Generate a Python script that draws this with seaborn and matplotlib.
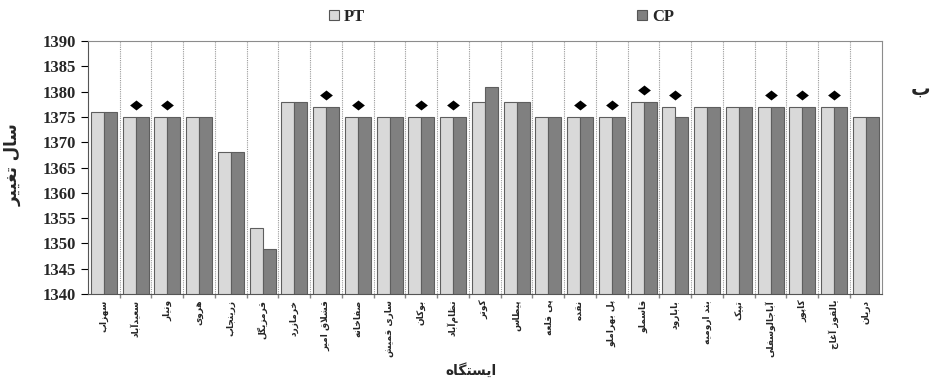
import matplotlib
matplotlib.use("Agg")
import matplotlib.pyplot as plt
import seaborn as sns
import pandas as pd
from matplotlib.patches import Patch

# --- data -------------------------------------------------------------
stations = [
    "سهزاب", "سعیدآباد", "ونیار", "هروی", "زرینجاب", "قرمزیگل", "خرمازرد",
    "قشلاق امیر", "صفاخانه", "ساری قمیش", "بوکان", "نظام\u200cآباد", "کوتر",
    "پیطاس", "پی قلعه", "نقده", "پل بهراملو", "قاسملو", "بابارود",
    "بند ارومیه", "تپیک", "آباجالوسفلی", "کاپور", "یالقوز آغاج", "دریان",
]
pt_years = [1376, 1375, 1375, 1375, 1368, 1353, 1378, 1377, 1375, 1375, 1375,
            1375, 1378, 1378, 1375, 1375, 1375, 1378, 1377, 1377, 1377, 1377,
            1377, 1377, 1375]
cp_years = [1376, 1375, 1375, 1375, 1368, 1349, 1378, 1377, 1375, 1375, 1375,
            1375, 1381, 1378, 1375, 1375, 1375, 1378, 1375, 1377, 1377, 1377,
            1377, 1377, 1375]
# stations flagged with a diamond above their bars
flagged = [0, 1, 1, 0, 0, 0, 0, 1, 1, 0, 1, 1, 0, 0, 0, 1, 1, 1, 1, 0, 0, 1,
           1, 1, 0]
series_names = ["PT", "CP"]
y_ticks = list(range(1340, 1391, 5))
y_title = "سال تغییر"
x_title = "ایستگاه"
panel_tag = "ب"

# --- minimal Arabic-script shaping (matplotlib has no complex text layout)
FORMS = {
    "ا": ("\uFE8D", "\uFE8E"), "آ": ("\uFE81", "\uFE82"),
    "ب": ("\uFE8F", "\uFE90", "\uFE91", "\uFE92"),
    "پ": ("\uFB56", "\uFB57", "\uFB58", "\uFB59"),
    "ت": ("\uFE95", "\uFE96", "\uFE97", "\uFE98"),
    "ث": ("\uFE99", "\uFE9A", "\uFE9B", "\uFE9C"),
    "ج": ("\uFE9D", "\uFE9E", "\uFE9F", "\uFEA0"),
    "چ": ("\uFB7A", "\uFB7B", "\uFB7C", "\uFB7D"),
    "ح": ("\uFEA1", "\uFEA2", "\uFEA3", "\uFEA4"),
    "خ": ("\uFEA5", "\uFEA6", "\uFEA7", "\uFEA8"),
    "د": ("\uFEA9", "\uFEAA"), "ذ": ("\uFEAB", "\uFEAC"),
    "ر": ("\uFEAD", "\uFEAE"), "ز": ("\uFEAF", "\uFEB0"),
    "ژ": ("\uFB8A", "\uFB8B"),
    "س": ("\uFEB1", "\uFEB2", "\uFEB3", "\uFEB4"),
    "ش": ("\uFEB5", "\uFEB6", "\uFEB7", "\uFEB8"),
    "ص": ("\uFEB9", "\uFEBA", "\uFEBB", "\uFEBC"),
    "ض": ("\uFEBD", "\uFEBE", "\uFEBF", "\uFEC0"),
    "ط": ("\uFEC1", "\uFEC2", "\uFEC3", "\uFEC4"),
    "ظ": ("\uFEC5", "\uFEC6", "\uFEC7", "\uFEC8"),
    "ع": ("\uFEC9", "\uFECA", "\uFECB", "\uFECC"),
    "غ": ("\uFECD", "\uFECE", "\uFECF", "\uFED0"),
    "ف": ("\uFED1", "\uFED2", "\uFED3", "\uFED4"),
    "ق": ("\uFED5", "\uFED6", "\uFED7", "\uFED8"),
    "ک": ("\uFB8E", "\uFB8F", "\uFB90", "\uFB91"),
    "گ": ("\uFB92", "\uFB93", "\uFB94", "\uFB95"),
    "ل": ("\uFEDD", "\uFEDE", "\uFEDF", "\uFEE0"),
    "م": ("\uFEE1", "\uFEE2", "\uFEE3", "\uFEE4"),
    "ن": ("\uFEE5", "\uFEE6", "\uFEE7", "\uFEE8"),
    "و": ("\uFEED", "\uFEEE"),
    "ه": ("\uFEE9", "\uFEEA", "\uFEEB", "\uFEEC"),
    "ی": ("\uFBFC", "\uFBFD", "\uFBFE", "\uFBFF"),
}
LAM_ALEF = {"ا": ("\uFEFB", "\uFEFC"), "آ": ("\uFEF5", "\uFEF6")}


def shape(text):
    chars = list(text)
    out = []
    i = 0
    n = len(chars)

    def joins_next(c):
        return c in FORMS and len(FORMS[c]) == 4

    while i < n:
        c = chars[i]
        prev = chars[i - 1] if i > 0 else None
        link_prev = prev is not None and joins_next(prev) and c in FORMS
        if c == "\u200c":
            i += 1
            continue
        if c == "ل" and i + 1 < n and chars[i + 1] in LAM_ALEF:
            iso, fin = LAM_ALEF[chars[i + 1]]
            out.append(fin if link_prev else iso)
            i += 2
            continue
        if c not in FORMS:
            out.append(c)
            i += 1
            continue
        nxt = chars[i + 1] if i + 1 < n else None
        link_next = joins_next(c) and nxt in FORMS
        f = FORMS[c]
        if link_prev and link_next:
            out.append(f[3])
        elif link_prev:
            out.append(f[1])
        elif link_next:
            out.append(f[2])
        else:
            out.append(f[0])
        i += 1
    return "".join(reversed(out))


# --- figure -----------------------------------------------------------
sns.set_theme(style="white")
plt.rcParams["font.family"] = ["Liberation Serif", "DejaVu Sans"]
plt.rcParams["axes.unicode_minus"] = False

df = pd.DataFrame({
    "station": stations * 2,
    "year": pt_years + cp_years,
    "series": [series_names[0]] * len(stations) + [series_names[1]] * len(stations),
})

fig = plt.figure(figsize=(9.41, 3.79), dpi=100)
ax = fig.add_axes([0.0935, 0.224, 0.8435, 0.668])

palette = {"PT": "#d9d9d9", "CP": "#808080"}
sns.barplot(data=df, x="station", y="year", hue="series", order=stations,
            hue_order=series_names, palette=palette, width=0.82,
            edgecolor="#5e5e5e", linewidth=0.8, saturation=1, legend=False,
            ax=ax, bottom=0)

ax.set_ylim(1340, 1390)
ax.set_xlim(-0.5, len(stations) - 0.5)
ax.set_yticks(y_ticks)
ax.set_yticklabels([str(t) for t in y_ticks], fontsize=12, fontweight="bold",
                   family="Liberation Serif")

# diamonds above the flagged stations (slightly wider than tall)
diamond = [(-1.0, 0.0), (0.0, 0.78), (1.0, 0.0), (0.0, -0.78), (-1.0, 0.0)]
fx = [i for i, f in enumerate(flagged) if f]
fy = [max(pt_years[i], cp_years[i]) + 2.35 for i in fx]
ax.scatter(fx, fy, marker=diamond, s=85, color="black", linewidths=0,
           zorder=5)

# category separators
ax.set_xticks([i + 0.5 for i in range(len(stations) - 1)], minor=True)
ax.grid(which="minor", axis="x", color="#9a9a9a", linestyle=(0, (1, 1)),
        linewidth=0.8)
ax.set_xticks(range(len(stations)))
ax.set_xticklabels([shape(s) for s in stations], rotation=90, fontsize=6.5,
                   fontweight="bold", family="DejaVu Sans", va="top")
ax.tick_params(axis="x", which="major", length=0, pad=4)
ax.tick_params(axis="x", which="minor", length=3, color="#888888",
               direction="out", bottom=True)
ax.tick_params(axis="y", length=5, direction="out", left=True, color="black",
               width=0.8)

for side in ["top", "right"]:
    ax.spines[side].set_color("#8c8c8c")
    ax.spines[side].set_linewidth(0.8)
for side in ["left", "bottom"]:
    ax.spines[side].set_color("#555555")
    ax.spines[side].set_linewidth(0.8)

ax.set_ylabel(shape(y_title), fontsize=12, fontweight="bold",
              family="DejaVu Sans")
ax.yaxis.set_label_coords(-0.083, 0.51)
ax.set_xlabel(shape(x_title), fontsize=10, fontweight="bold",
              family="DejaVu Sans", va="center")
ax.xaxis.set_label_coords(0.482, -0.30)

handles = [Patch(facecolor=palette[s], edgecolor="#555555", linewidth=0.8)
           for s in series_names]
fig.legend(handles, series_names, loc="center", bbox_to_anchor=(0.533, 0.955),
           ncol=2, frameon=False, handlelength=0.6, handleheight=0.6,
           handletextpad=0.3, columnspacing=16.3,
           prop={"family": "Liberation Serif", "weight": "bold", "size": 12})

fig.text(0.978, 0.765, shape(panel_tag), fontsize=14, fontweight="bold",
         family="DejaVu Sans", ha="center", va="center")

fig.savefig("out.png", dpi=100)
